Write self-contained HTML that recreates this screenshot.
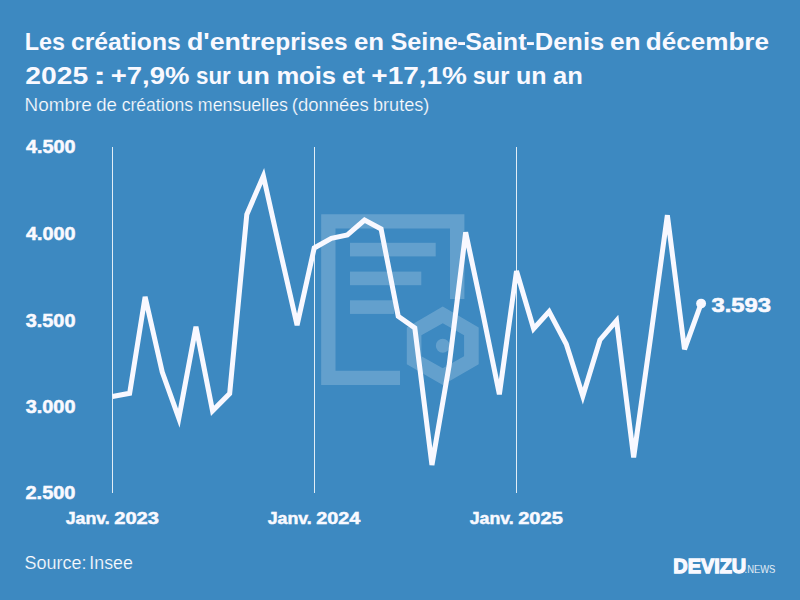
<!DOCTYPE html>
<html lang="fr">
<head>
<meta charset="utf-8">
<title>Les créations d'entreprises en Seine-Saint-Denis</title>
<style>
html,body{margin:0;padding:0;background:#3d89c1;}
body{width:800px;height:600px;overflow:hidden;font-family:"Liberation Sans",sans-serif;}
svg{display:block;}
text{font-family:"Liberation Sans",sans-serif;fill:#f9f9ff;}
.t{font-weight:bold;}
.sub{fill:#fbfcff;stroke:#3d89c1;stroke-width:0.22px;}
.ax{font-weight:bold;stroke:#f9f9ff;stroke-width:0.5px;}
.xl{font-weight:bold;stroke:#f9f9ff;stroke-width:0.5px;}
.val{font-weight:bold;stroke:#f9f9ff;stroke-width:0.6px;}
.src{fill:#fbfcff;stroke:#3d89c1;stroke-width:0.22px;}
.logo{font-weight:bold;stroke:#f9f9ff;stroke-width:1.3px;}
.news{fill:#fbfcff;stroke:#3d89c1;stroke-width:0.12px;}
</style>
</head>
<body>
<svg width="800" height="600" viewBox="0 0 800 600">
<rect width="800" height="600" fill="#3d89c1"/>
<!-- title -->
<text class="t" font-size="24.0" transform="translate(24.69,49.7) scale(0.9737,1)" >Les</text>
<text class="t" font-size="24.0" transform="translate(70.93,49.7) scale(1.0294,1)" >créations</text>
<text class="t" font-size="24.0" transform="translate(186.99,49.7) scale(1.1163,1)" >d'entre</text>
<text class="t" font-size="24.0" transform="translate(275.37,49.7) scale(1.0204,1)" >prises</text>
<text class="t" font-size="24.0" transform="translate(353.98,49.7) scale(1.0764,1)" >en</text>
<text class="t" font-size="24.0" transform="translate(390.50,49.7) scale(1.0519,1)" >Seine</text>
<text class="t" font-size="24.0" transform="translate(465.25,49.7) scale(1.0445,1)" >Saint</text>
<text class="t" font-size="24.0" transform="translate(534.80,49.7) scale(1.0610,1)" >Denis</text>
<text class="t" font-size="24.0" transform="translate(609.97,49.7) scale(1.0959,1)" >en</text>
<text class="t" font-size="24.0" transform="translate(645.82,49.7) scale(1.0866,1)" >décembre</text>
<text class="t" font-size="24.0" transform="translate(25.26,84.1) scale(1.1812,1)" >2025</text>
<text class="t" font-size="24.0" transform="translate(93.06,84.1) scale(1.6615,1)" >:</text>
<text class="t" font-size="24.0" transform="translate(110.74,84.1) scale(1.1456,1)" >+7,9%</text>
<text class="t" font-size="24.0" transform="translate(196.06,84.1) scale(0.9310,1)" >sur</text>
<text class="t" font-size="24.0" transform="translate(237.08,84.1) scale(1.1153,1)" >un</text>
<text class="t" font-size="24.0" transform="translate(276.40,84.1) scale(1.0651,1)" >mois</text>
<text class="t" font-size="24.0" transform="translate(341.99,84.1) scale(1.0661,1)" >et</text>
<text class="t" font-size="24.0" transform="translate(371.32,84.1) scale(1.1659,1)" >+17,1%</text>
<text class="t" font-size="24.0" transform="translate(472.71,84.1) scale(0.9808,1)" >sur</text>
<text class="t" font-size="24.0" transform="translate(515.94,84.1) scale(1.0450,1)" >un</text>
<text class="t" font-size="24.0" transform="translate(552.99,84.1) scale(1.0667,1)" >an</text>
<text class="sub" font-size="17.9" transform="translate(24.55,111) scale(1.0556,1)" >Nombre</text>
<text class="sub" font-size="17.9" transform="translate(96.21,111) scale(1.0419,1)" >de</text>
<text class="sub" font-size="17.9" transform="translate(121.65,111) scale(0.9830,1)" >créations</text>
<text class="sub" font-size="17.9" transform="translate(197.81,111) scale(0.9968,1)" >mensuelles</text>
<text class="sub" font-size="17.9" transform="translate(291.85,111) scale(1.0319,1)" >(données</text>
<text class="sub" font-size="17.9" transform="translate(372.91,111) scale(1.0142,1)" >brutes)</text>
<rect x="458.2" y="42.1" width="6.8" height="2.9" fill="#f9f9ff"/><rect x="527" y="42.1" width="6.9" height="2.9" fill="#f9f9ff"/>
<!-- watermark -->
<g fill="#fff" fill-opacity="0.2">
<path d="M321.2 214.2H464.4V299H450V228.4H335.5V370.8H400V385H321.2Z"/>
<rect x="350" y="242.8" width="85.7" height="13.6"/>
<rect x="350" y="271.6" width="71.3" height="13.6"/>
<rect x="350" y="300.3" width="44" height="13.6"/>
<path fill-rule="evenodd" d="M442.75 306.6L478.7 327.4V364.3L442.75 384.9L406.8 364.3V327.4ZM442.75 323.2L421.4 335.2V356.2L442.75 368.3L464.1 356.2V335.2Z"/>
<circle cx="442.75" cy="345.75" r="6.9"/>
</g>
<!-- grid -->
<g fill="#fff" fill-opacity="0.85">
<rect x="112" y="147" width="1" height="346"/>
<rect x="314" y="147" width="1" height="346"/>
<rect x="516" y="147" width="1" height="346"/>
</g>
<!-- labels -->
<text class="ax" font-size="17.6" transform="translate(25.90,153.2) scale(1.1261,1)" >4.500</text>
<text class="ax" font-size="17.6" transform="translate(25.90,240.1) scale(1.1261,1)" >4.000</text>
<text class="ax" font-size="17.6" transform="translate(25.72,326.5) scale(1.1301,1)" >3.500</text>
<text class="ax" font-size="17.6" transform="translate(25.72,412.8) scale(1.1301,1)" >3.000</text>
<text class="ax" font-size="17.6" transform="translate(25.51,499.0) scale(1.1351,1)" >2.500</text>
<text class="xl" font-size="16.8" transform="translate(65.70,523.9) scale(1.0579,1)" >Janv.</text>
<text class="xl" font-size="16.8" transform="translate(114.20,523.9) scale(1.1975,1)" >2023</text>
<text class="xl" font-size="16.8" transform="translate(267.70,523.9) scale(1.0579,1)" >Janv.</text>
<text class="xl" font-size="16.8" transform="translate(316.21,523.9) scale(1.1805,1)" >2024</text>
<text class="xl" font-size="16.8" transform="translate(469.70,523.9) scale(1.0579,1)" >Janv.</text>
<text class="xl" font-size="16.8" transform="translate(518.20,523.9) scale(1.1930,1)" >2025</text>
<text class="val" font-size="19.4" transform="translate(711.53,311.7) scale(1.2259,1)" >3.593</text>
<text class="src" font-size="17.6" transform="translate(24.53,568.9) scale(1.0243,1)" >Source:</text>
<text class="src" font-size="17.6" transform="translate(89.36,568.9) scale(1.0088,1)" >Insee</text>
<text class="logo" font-size="20.8" transform="translate(673.27,573.3) scale(0.9564,1)" >DEVIZU</text>
<text class="news" font-size="10.3" transform="translate(744.54,573.3) scale(0.9154,1)" >.NEWS</text>
<!-- line -->
<polyline fill="none" stroke="#f8f8ff" stroke-width="5" points="112.50,396.50 129.63,393.30 145.11,296.80 162.24,372.00 178.82,418.20 195.95,326.80 212.53,410.80 229.67,393.60 246.80,214.50 263.38,176.00 280.51,252.50 297.09,325.10 314.22,248.00 331.36,238.30 347.38,235.00 364.52,220.00 381.10,229.00 398.23,316.30 414.81,328.00 431.94,465.00 449.07,366.00 465.65,232.30 482.79,313.00 499.37,394.30 516.50,271.00 533.63,328.70 549.11,311.50 566.24,344.00 582.82,396.00 599.95,340.00 616.53,320.60 633.67,457.50 650.80,336.00 667.38,215.20 684.51,349.30 701.09,303.60"/>
<circle cx="701.1" cy="303.6" r="4.95" fill="#f8f8ff"/>
</svg>
</body>
</html>
